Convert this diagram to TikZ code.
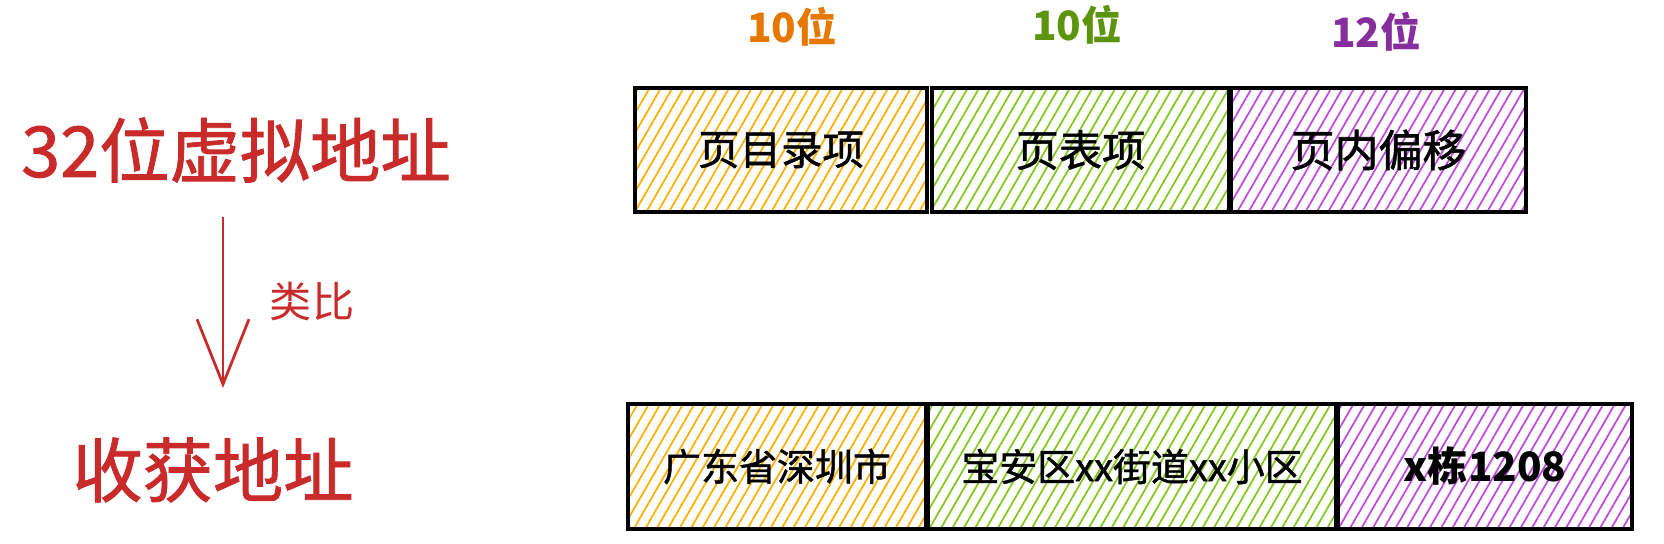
\documentclass[tikz,border=0pt]{standalone}
\usepackage{fontspec}
\setmainfont{Noto Sans CJK SC}
\newfontfamily\medfont[FakeBold=1.2]{Noto Sans CJK SC}
\usepackage{tikz}
\usetikzlibrary{patterns.meta,arrows.meta}
\definecolor{addrred}{HTML}{C92A2A}
\definecolor{bitorange}{HTML}{E67700}
\definecolor{bitgreen}{HTML}{5C940D}
\definecolor{bitpurple}{HTML}{862E9C}
\definecolor{hatchorange}{HTML}{FAB005}
\definecolor{hatchgreen}{HTML}{82C91E}
\definecolor{hatchpurple}{HTML}{BE4BDB}
\tikzset{
  field/.style={draw, line width=1pt, inner sep=0pt,
    pattern={Lines[angle=60,distance=2.8pt,line width=0.5pt]}},
  topfield/.style={field, minimum height=1.24cm},
  botfield/.style={field, minimum height=1.25cm, font=\medfont\fontsize{10.8}{13}\selectfont},
  bits/.style={font=\fontsize{11.5}{14}\selectfont\bfseries},
  title/.style={addrred, font=\medfont\fontsize{20}{24}\selectfont}
}

\begin{document}
\begin{tikzpicture}
\useasboundingbox (0,0) rectangle (16.64,5.44);
% left side
\node[title] (vaddr) at (2.36,3.94) {32位虚拟地址};
\node[title] (haddr) at (2.13,0.74) {收获地址};
\node[addrred, font=\fontsize{12}{14}\selectfont] (analogy) at (3.12,2.42) {类比};
\coordinate (arrtop) at (2.23,3.27);
\coordinate (arrtip) at (2.23,1.56);
\draw[addrred, line width=0.8pt, -{Straight Barb[length=6.5mm,width=5.2mm]}] (arrtop) -- (arrtip);
% bit widths
\node[bits, bitorange] (b1) at (7.92,5.17) {10位};
\node[bits, bitgreen] (b2) at (10.77,5.19) {10位};
\node[bits, bitpurple] (b3) at (13.76,5.12) {12位};
% virtual address
\node[topfield, pattern color=hatchorange, minimum width=2.92cm, font=\medfont\fontsize{11.8}{14}\selectfont] (pde) at (7.81,3.94) {页目录项};
\node[topfield, pattern color=hatchgreen, minimum width=2.97cm, font=\medfont\fontsize{12.3}{14}\selectfont] (pte) at (10.805,3.94) {页表项};
\node[topfield, pattern color=hatchpurple, minimum width=2.95cm, font=\medfont\fontsize{12.5}{14}\selectfont] (poff) at (13.785,3.94) {页内偏移};
% postal address
\node[botfield, pattern color=hatchorange, minimum width=2.98cm] (city) at (7.77,0.775) {广东省深圳市};
\node[botfield, pattern color=hatchgreen, minimum width=4.08cm] (street) at (11.32,0.775) {宝安区xx街道xx小区};
\node[botfield, pattern color=hatchpurple, minimum width=2.94cm, font=\fontsize{11.5}{14}\selectfont\bfseries] (room) at (14.85,0.775) {x栋1208};
\end{tikzpicture}
\end{document}
